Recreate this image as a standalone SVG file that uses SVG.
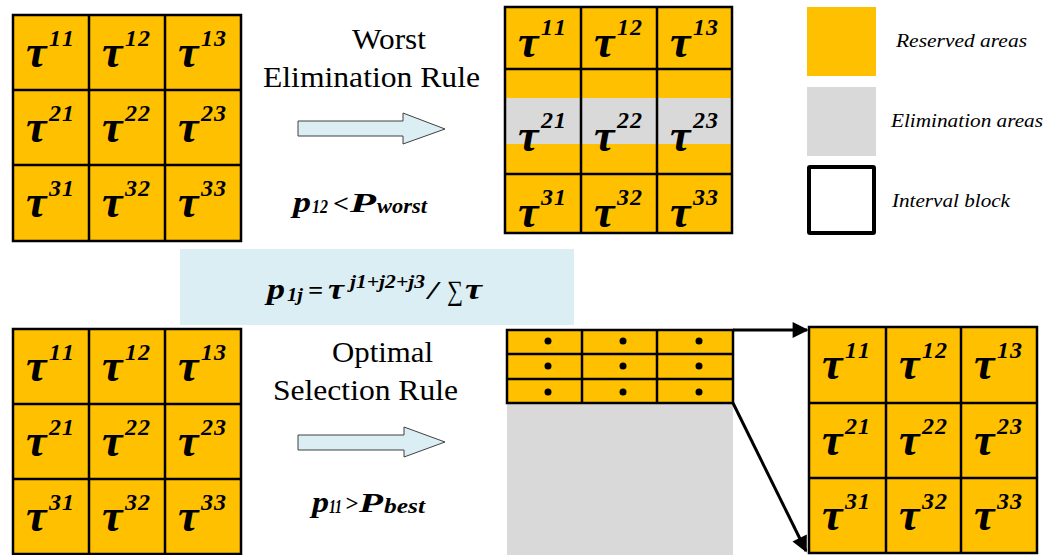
<svg xmlns="http://www.w3.org/2000/svg" width="1060" height="555" viewBox="0 0 1060 555">
<style>
text{font-family:'Liberation Serif','Times New Roman','DejaVu Serif',serif;fill:#000}
.y{fill:#FFC000}
.g{fill:#D9D9D9}
.ln{stroke:#000;stroke-width:2.5;fill:none}
.t{font-weight:bold;font-style:italic;font-size:46px}
.s{font-weight:bold;font-style:italic;font-size:24px}
.lbl{font-size:30px}
.leg{font-style:italic;font-size:18px}
.f{font-weight:bold;font-style:italic}
.barrow{fill:#DAEEF3;stroke:#404040;stroke-width:1}
.conn{stroke:#000;stroke-width:3;fill:none}
</style>
<defs>
<marker id="ah" viewBox="0 0 10 10" refX="9" refY="5" markerWidth="22" markerHeight="16" markerUnits="userSpaceOnUse" orient="auto">
<path d="M0,0 L10,5 L0,10 z" fill="#000"/>
</marker>
</defs>

<!-- Grid A top-left -->
<g id="gridA">
<rect class="y" x="13" y="15" width="228" height="226"/>
<path class="ln" d="M13,15H241V241H13Z M89,15V241 M165,15V241 M13,90H241 M13,165H241"/>
<text class="t" x="26" y="67">τ</text><text class="s" x="49" y="46" textLength="25">11</text>
<text class="t" x="102" y="67">τ</text><text class="s" x="125" y="46" textLength="25">12</text>
<text class="t" x="178" y="67">τ</text><text class="s" x="201" y="46" textLength="25">13</text>
<text class="t" x="26" y="142">τ</text><text class="s" x="49" y="121" textLength="25">21</text>
<text class="t" x="102" y="142">τ</text><text class="s" x="125" y="121" textLength="25">22</text>
<text class="t" x="178" y="142">τ</text><text class="s" x="201" y="121" textLength="25">23</text>
<text class="t" x="26" y="217">τ</text><text class="s" x="49" y="196" textLength="25">31</text>
<text class="t" x="102" y="217">τ</text><text class="s" x="125" y="196" textLength="25">32</text>
<text class="t" x="178" y="217">τ</text><text class="s" x="201" y="196" textLength="25">33</text>
</g>

<!-- Grid B top-middle -->
<g id="gridB">
<rect class="y" x="505" y="7" width="227" height="226"/>
<rect class="g" x="505" y="98" width="227" height="46"/>
<path class="ln" d="M505,7H732V233H505Z M581,7V233 M657,7V233 M505,69H732 M505,174H732"/>
<text class="t" x="518" y="57">τ</text><text class="s" x="541" y="35" textLength="25">11</text>
<text class="t" x="594" y="57">τ</text><text class="s" x="617" y="35" textLength="25">12</text>
<text class="t" x="670" y="57">τ</text><text class="s" x="693" y="35" textLength="25">13</text>
<text class="t" x="518" y="151">τ</text><text class="s" x="541" y="128" textLength="25">21</text>
<text class="t" x="594" y="151">τ</text><text class="s" x="617" y="128" textLength="25">22</text>
<text class="t" x="670" y="151">τ</text><text class="s" x="693" y="128" textLength="25">23</text>
<text class="t" x="518" y="227">τ</text><text class="s" x="541" y="205" textLength="25">31</text>
<text class="t" x="594" y="227">τ</text><text class="s" x="617" y="205" textLength="25">32</text>
<text class="t" x="670" y="227">τ</text><text class="s" x="693" y="205" textLength="25">33</text>
</g>

<!-- Grid C bottom-left -->
<g id="gridC">
<rect class="y" x="13" y="329" width="228" height="225"/>
<path class="ln" d="M13,329H241V554H13Z M89,329V554 M165,329V554 M13,404H241 M13,479H241"/>
<text class="t" x="26" y="381">τ</text><text class="s" x="49" y="360" textLength="25">11</text>
<text class="t" x="102" y="381">τ</text><text class="s" x="125" y="360" textLength="25">12</text>
<text class="t" x="178" y="381">τ</text><text class="s" x="201" y="360" textLength="25">13</text>
<text class="t" x="26" y="456">τ</text><text class="s" x="49" y="435" textLength="25">21</text>
<text class="t" x="102" y="456">τ</text><text class="s" x="125" y="435" textLength="25">22</text>
<text class="t" x="178" y="456">τ</text><text class="s" x="201" y="435" textLength="25">23</text>
<text class="t" x="26" y="531">τ</text><text class="s" x="49" y="510" textLength="25">31</text>
<text class="t" x="102" y="531">τ</text><text class="s" x="125" y="510" textLength="25">32</text>
<text class="t" x="178" y="531">τ</text><text class="s" x="201" y="510" textLength="25">33</text>
</g>

<!-- Grid D bottom-right -->
<g id="gridD">
<rect class="y" x="809" y="327" width="228" height="226"/>
<path class="ln" d="M809,327H1037V553H809Z M886,327V553 M961,327V553 M809,403H1037 M809,478H1037"/>
<text class="t" x="822" y="379">τ</text><text class="s" x="845" y="358" textLength="25">11</text>
<text class="t" x="899" y="379">τ</text><text class="s" x="922" y="358" textLength="25">12</text>
<text class="t" x="974" y="379">τ</text><text class="s" x="997" y="358" textLength="25">13</text>
<text class="t" x="822" y="455">τ</text><text class="s" x="845" y="434" textLength="25">21</text>
<text class="t" x="899" y="455">τ</text><text class="s" x="922" y="434" textLength="25">22</text>
<text class="t" x="974" y="455">τ</text><text class="s" x="997" y="434" textLength="25">23</text>
<text class="t" x="822" y="530">τ</text><text class="s" x="845" y="509" textLength="25">31</text>
<text class="t" x="899" y="530">τ</text><text class="s" x="922" y="509" textLength="25">32</text>
<text class="t" x="974" y="530">τ</text><text class="s" x="997" y="509" textLength="25">33</text>
</g>

<!-- Small interval grid with elimination area -->
<g id="gridE">
<rect class="g" x="507" y="403" width="226" height="152"/>
<rect class="y" x="507" y="330" width="226" height="73"/>
<path class="ln" d="M507,330H733V403H507Z M582,330V403 M657,330V403 M507,354H733 M507,379H733"/>
<g fill="#000">
<circle cx="548" cy="341" r="3.5"/><circle cx="623" cy="341" r="3.5"/><circle cx="699" cy="341" r="3.5"/>
<circle cx="548" cy="366" r="3.5"/><circle cx="623" cy="366" r="3.5"/><circle cx="699" cy="366" r="3.5"/>
<circle cx="548" cy="392" r="3.5"/><circle cx="623" cy="392" r="3.5"/><circle cx="699" cy="392" r="3.5"/>
</g>
</g>

<!-- Rule labels and block arrows -->
<g id="worstRule">
<text class="lbl" x="352" y="49" textLength="74" lengthAdjust="spacingAndGlyphs">Worst</text>
<text class="lbl" x="263" y="87" textLength="217" lengthAdjust="spacingAndGlyphs">Elimination Rule</text>
<polygon class="barrow" points="298,121 403,121 403,113 445,129 403,144 403,136 298,136"/>
<text class="f" x="293" y="212" font-size="29" textLength="18" lengthAdjust="spacingAndGlyphs">p</text>
<text class="f" x="312" y="213" font-size="18" textLength="16" lengthAdjust="spacingAndGlyphs">12</text>
<text class="f" x="333" y="212" font-size="26" textLength="16" lengthAdjust="spacingAndGlyphs">&lt;</text>
<text class="f" x="350" y="212" font-size="28" textLength="26" lengthAdjust="spacingAndGlyphs">P</text>
<text class="f" x="377" y="213" font-size="20" textLength="50" lengthAdjust="spacingAndGlyphs">worst</text>
</g>

<g id="bestRule">
<text class="lbl" x="332" y="362" textLength="101" lengthAdjust="spacingAndGlyphs">Optimal</text>
<text class="lbl" x="273" y="400" textLength="185" lengthAdjust="spacingAndGlyphs">Selection Rule</text>
<polygon class="barrow" points="298,435 404,435 404,427 445,442 404,457 404,450 298,450"/>
<text class="f" x="312" y="512" font-size="29" textLength="17" lengthAdjust="spacingAndGlyphs">p</text>
<text class="f" x="329" y="513" font-size="18" textLength="13" lengthAdjust="spacingAndGlyphs">11</text>
<text class="f" x="345" y="511" font-size="24" textLength="13" lengthAdjust="spacingAndGlyphs">&gt;</text>
<text class="f" x="359" y="512" font-size="28" textLength="24" lengthAdjust="spacingAndGlyphs">P</text>
<text class="f" x="384" y="513" font-size="20" textLength="41" lengthAdjust="spacingAndGlyphs">best</text>
</g>

<!-- Formula box -->
<g id="formula">
<rect x="180" y="249" width="394" height="76" fill="#DAEEF3"/>
<text class="f" x="267" y="299" font-size="29" textLength="18" lengthAdjust="spacingAndGlyphs">p</text>
<text class="f" x="287" y="301" font-size="18" textLength="16" lengthAdjust="spacingAndGlyphs">1j</text>
<text class="f" x="308" y="299" font-size="26" textLength="15" lengthAdjust="spacingAndGlyphs">=</text>
<text class="f" x="328" y="299" font-size="30" textLength="16" lengthAdjust="spacingAndGlyphs">τ</text>
<text class="f" x="350" y="288" font-size="18" textLength="75" lengthAdjust="spacingAndGlyphs">j1+j2+j3</text>
<text class="f" x="428" y="299" font-size="26" textLength="10" lengthAdjust="spacingAndGlyphs">/</text>
<text x="447" y="300" font-size="28" textLength="16" lengthAdjust="spacingAndGlyphs">∑</text>
<text class="f" x="465" y="299" font-size="30" textLength="17" lengthAdjust="spacingAndGlyphs">τ</text>
</g>

<!-- Legend -->
<g id="legend">
<rect class="y" x="807" y="7" width="69" height="69"/>
<text class="leg" x="896" y="47" textLength="131" lengthAdjust="spacingAndGlyphs">Reserved areas</text>
<rect class="g" x="807" y="87" width="69" height="69"/>
<text class="leg" x="891" y="127" textLength="152" lengthAdjust="spacingAndGlyphs">Elimination areas</text>
<rect x="809" y="167" width="65" height="66" fill="#fff" stroke="#000" stroke-width="4" rx="1"/>
<text class="leg" x="892" y="207" textLength="118" lengthAdjust="spacingAndGlyphs">Interval block</text>
</g>

<!-- Connectors -->
<g id="connectors">
<line class="conn" x1="733" y1="330" x2="807" y2="330" marker-end="url(#ah)"/>
<line class="conn" x1="733" y1="403" x2="806" y2="551" marker-end="url(#ah)"/>
</g>
</svg>
